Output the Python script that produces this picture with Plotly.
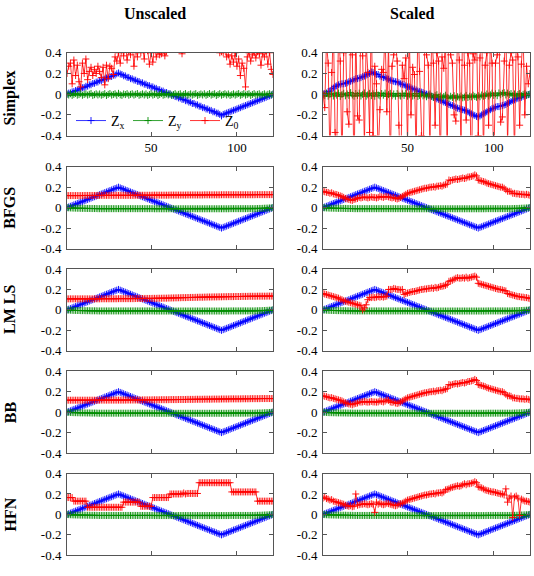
import plotly.graph_objects as go

# ---------------- data ----------------
iterations = list(range(1, 122))
methods = ["Simplex", "BFGS", "LM LS", "BB", "HFN"]
columns = ["Unscaled", "Scaled"]
y_ticks = [-0.4, -0.2, 0, 0.2, 0.4]
y_tick_labels = ["-0.4", "-0.2", "0", "0.2", "0.4"]
x_ticks = [50, 100]
x_tick_labels = ["50", "100"]
series_names = ["Z<sub>x</sub>", "Z<sub>y</sub>", "Z<sub>0</sub>"]

zx_clean = [
    0, .007, .013, .02, .027, .033, .04, .047, .053, .06,
    .067, .073, .08, .087, .093, .1, .107, .113, .12, .127,
    .133, .14, .147, .153, .16, .167, .173, .18, .187, .193,
    .2, .193, .187, .18, .173, .167, .16, .153, .147, .14,
    .133, .127, .12, .113, .107, .1, .093, .087, .08, .073,
    .067, .06, .053, .047, .04, .033, .027, .02, .013, .007,
    0, -.007, -.013, -.02, -.027, -.033, -.04, -.047, -.053, -.06,
    -.067, -.073, -.08, -.087, -.093, -.1, -.107, -.113, -.12, -.127,
    -.133, -.14, -.147, -.153, -.16, -.167, -.173, -.18, -.187, -.193,
    -.2, -.193, -.187, -.18, -.173, -.167, -.16, -.153, -.147, -.14,
    -.133, -.127, -.12, -.113, -.107, -.1, -.093, -.087, -.08, -.073,
    -.067, -.06, -.053, -.047, -.04, -.033, -.027, -.02, -.013, -.007,
    0,
]

zx_simplex_unscaled = [
    0, .01, .012, .022, .025, .035, .038, .05, .051, .062,
    .065, .076, .078, .09, .091, .103, .105, .116, .118, .13,
    .131, .143, .145, .156, .158, .17, .171, .183, .185, .197,
    .205, .195, .19, .178, .176, .163, .162, .15, .148, .137,
    .135, .124, .122, .11, .109, .097, .096, .084, .082, .07,
    .07, .058, .056, .044, .043, .03, .03, .017, .016, .004,
    .002, -.01, -.011, -.023, -.025, -.036, -.037, -.05, -.05, -.063,
    -.064, -.076, -.077, -.09, -.09, -.103, -.104, -.116, -.117, -.13,
    -.131, -.143, -.144, -.156, -.157, -.17, -.17, -.183, -.184, -.196,
    -.21, -.196, -.19, -.183, -.176, -.17, -.163, -.156, -.15, -.143,
    -.136, -.13, -.122, -.116, -.11, -.103, -.096, -.09, -.083, -.076,
    -.07, -.063, -.056, -.05, -.043, -.036, -.03, -.023, -.016, -.01,
    0,
]

zx_simplex_scaled = [
    0, .005, .01, .025, .03, .05, .06, .075, .08, .09,
    .095, .1, .1, .105, .11, .12, .125, .13, .14, .15,
    .15, .155, .16, .17, .175, .185, .19, .2, .215, .21,
    .2, .19, .19, .175, .17, .16, .165, .15, .145, .135,
    .13, .125, .12, .12, .11, .1, .095, .09, .08, .07,
    .07, .06, .05, .05, .04, .03, .025, .02, .015, .005,
    0, -.005, -.015, -.02, -.03, -.035, -.045, -.05, -.06, -.065,
    -.075, -.08, -.09, -.1, -.105, -.11, -.12, -.13, -.135, -.14,
    -.145, -.15, -.155, -.16, -.17, -.18, -.19, -.2, -.205, -.215,
    -.22, -.21, -.2, -.19, -.18, -.17, -.16, -.15, -.14, -.135,
    -.125, -.12, -.12, -.115, -.11, -.105, -.1, -.09, -.08, -.07,
    -.06, -.055, -.045, -.04, -.035, -.03, -.02, -.015, -.01, -.005,
    0,
]

zy_clean = [
    0, -.002, -.003, -.004, -.005, -.005, -.006, -.006, -.007, -.007,
    -.007, -.008, -.008, -.008, -.009, -.009, -.009, -.009, -.01, -.01,
    -.01, -.01, -.01, -.01, -.01, -.01, -.01, -.01, -.01, -.01,
    -.01, -.01, -.01, -.01, -.01, -.01, -.01, -.01, -.01, -.01,
    -.01, -.01, -.01, -.01, -.01, -.01, -.01, -.01, -.01, -.01,
    -.01, -.011, -.011, -.011, -.011, -.011, -.011, -.011, -.011, -.011,
    -.011, -.011, -.011, -.011, -.011, -.011, -.011, -.011, -.011, -.011,
    -.011, -.011, -.011, -.011, -.011, -.011, -.011, -.011, -.011, -.011,
    -.011, -.011, -.011, -.011, -.011, -.011, -.011, -.011, -.011, -.011,
    -.011, -.011, -.011, -.011, -.011, -.01, -.01, -.01, -.01, -.01,
    -.01, -.01, -.01, -.01, -.01, -.01, -.01, -.01, -.01, -.01,
    -.009, -.009, -.008, -.008, -.007, -.006, -.005, -.004, -.003, -.002,
    0,
]

zy_simplex_unscaled = [
    0, -.008, .004, -.012, -.002, .006, -.01, -.004, .005, -.011,
    -.003, .004, -.009, -.001, .007, -.012, -.005, .003, -.008, .002,
    -.01, -.004, .005, -.013, -.002, .006, -.009, -.003, .004, -.011,
    .008, -.006, -.012, .002, -.004, .005, -.01, -.002, .004, -.009,
    -.001, .006, -.011, -.005, .003, -.008, .002, -.012, -.004, .005,
    -.009, -.002, .004, -.013, -.003, .006, -.01, -.005, .003, -.008,
    .002, -.011, -.004, .005, -.009, -.002, .004, -.012, -.003, .006,
    -.01, -.004, .003, -.009, -.001, .005, -.012, -.005, .002, -.008,
    .004, -.011, -.003, .006, -.009, -.002, .004, -.013, -.004, .005,
    -.01, -.003, .004, -.008, .002, -.012, -.005, .003, -.009, -.001,
    .006, -.011, -.004, .005, -.009, -.002, .004, -.012, -.003, .005,
    -.008, -.002, .004, -.01, -.004, .003, -.009, -.001, .005, -.006,
    0,
]

zy_simplex_scaled = [
    0, -.015, .008, -.02, -.005, .01, -.018, .004, -.01, .012,
    -.022, -.004, .009, -.016, .002, -.012, .015, -.008, -.02, .006,
    -.012, .01, -.018, -.002, .012, -.02, -.006, .008, -.014, .004,
    -.02, .014, -.008, -.016, .006, -.01, .01, -.022, -.004, .008,
    -.015, .002, -.02, .006, -.01, -.018, .004, -.012, .008, -.02,
    -.006, .004, -.018, -.01, .006, -.022, -.012, .002, -.016, -.008,
    -.025, -.012, .002, -.02, -.03, -.015, -.005, -.028, -.018, -.035,
    -.022, -.01, -.03, -.04, -.02, -.032, -.015, -.038, -.025, -.03,
    -.018, -.035, -.028, -.012, -.032, -.02, -.026, -.01, -.022, -.03,
    -.015, -.025, -.008, -.02, -.012, .002, -.018, -.006, .01, -.012,
    .004, -.015, .012, -.005, .008, .015, -.008, .01, -.004, .006,
    -.012, .002, -.018, -.004, .006, -.014, -.002, .004, -.01, -.004,
    0,
]

z0_simplex_unscaled = [
    .20, .27, .30, .10, .33, .18, .28, .12, .07, .30,
    .20, .34, .14, .22, .26, .18, .24, .20, .27, .22,
    .16, .26, .09, .28, .15, .27, .25, .19, .36, .32,
    .40, .30, .45, .37, .50, .33, .42, .38, .48, .27,
    .44, .36, .52, .40, .46, .34, .55, .42, .29, .40,
    .31, .47, .36, .42, .38, .39, .44, .37, .41, .50,
    .60, .70, .80, .90, .75, .65, .55, .39, .60, .70,
    .85, .90, 1.0, .95, .80, .70, .75, .90, 1.0, .85,
    .70, .65, .80, .90, .75, .60, .55, .50, .45, .40,
    .41, .40, .44, .36, .38, .29, .37, .31, .40, .27,
    .34, .18, .30, .25, .07, .36, .40, .32, .38, .40,
    .35, .41, .39, .28, .40, .36, .42, .29, .40, .24,
    .19,
]

z0_simplex_scaled = [
    0.0, -.13, .5, .3, -.6, .21, .7, -.37, -.5, .6,
    .32, -.7, .4, .6, -.17, -.29, .5, .38, -.8, .6,
    -.21, -.25, .7, .37, -.5, .5, .21, -.37, .8, -.4,
    .27, .1, -.6, -.15, .24, .21, .6, -.17, .5, -.7,
    .27, .38, .5, .32, -.3, -.9, .28, .15, .35, -.5,
    .6, -.2, .26, .19, -.6, .7, .22, -.4, -.8, .5,
    .38, .28, -.5, .6, .3, -.3, .4, .32, -.7, .36,
    .25, .5, -.6, .9, .38, .3, -.2, -.26, .6, .33,
    -.5, .8, .28, -.25, .4, .3, -.9, .39, .33, .6,
    -.4, .35, .7, -.6, .28, .4, -.3, .5, .3, -.8,
    .3, .38, .6, -.27, -.22, .32, .7, -.5, .28, .4,
    .33, -.6, .5, .36, -.3, .29, .6, -.2, .27, .1,
    .2,
]

z0_bfgs_unscaled = [
    .118, .118, .118, .118, .118, .118, .118, .118, .118, .118,
    .119, .119, .119, .119, .119, .119, .119, .119, .119, .119,
    .12, .12, .12, .12, .12, .12, .12, .12, .12, .12,
    .12, .12, .12, .12, .12, .12, .12, .12, .12, .12,
    .121, .121, .121, .121, .121, .121, .121, .121, .121, .121,
    .122, .122, .122, .122, .122, .122, .122, .122, .122, .122,
    .123, .123, .123, .123, .123, .123, .123, .123, .123, .123,
    .124, .124, .124, .124, .124, .124, .124, .124, .124, .124,
    .125, .125, .125, .125, .125, .125, .125, .125, .125, .125,
    .126, .126, .126, .126, .126, .126, .126, .126, .126, .126,
    .126, .126, .126, .126, .126, .126, .126, .126, .126, .126,
    .127, .127, .127, .127, .127, .127, .127, .127, .127, .127,
    .128,
]

z0_bfgs_scaled = [
    .16, .155, .15, .148, .14, .145, .135, .13, .128, .12,
    .115, .11, .1, .09, .085, .08, .075, .07, .08, .085,
    .09, .1, .095, .1, .105, .1, .095, .1, .105, .1,
    .1, .095, .1, .11, .105, .1, .108, .11, .105, .1,
    .095, .1, .09, .085, .09, .1, .11, .12, .13, .14,
    .145, .15, .155, .16, .165, .17, .175, .18, .185, .19,
    .19, .195, .2, .2, .205, .2, .21, .21, .215, .21,
    .22, .225, .23, .27, .265, .27, .275, .28, .275, .28,
    .285, .29, .285, .29, .3, .3, .305, .31, .32, .31,
    .27, .265, .26, .255, .25, .24, .235, .23, .225, .22,
    .215, .21, .205, .2, .2, .19, .175, .16, .16, .155,
    .14, .14, .135, .135, .13, .13, .13, .125, .13, .125,
    .12,
]

z0_lmls_unscaled = [
    .108, .108, .108, .108, .108, .108, .108, .108, .108, .108,
    .108, .108, .108, .108, .108, .108, .108, .108, .108, .108,
    .109, .109, .109, .109, .109, .109, .109, .109, .109, .109,
    .11, .11, .11, .11, .11, .11, .11, .11, .11, .11,
    .111, .111, .111, .111, .111, .112, .112, .112, .112, .112,
    .113, .113, .113, .114, .114, .114, .115, .115, .115, .116,
    .116, .117, .117, .118, .118, .119, .119, .12, .12, .12,
    .121, .121, .122, .122, .122, .123, .123, .124, .124, .124,
    .125, .125, .126, .126, .126, .127, .127, .127, .128, .128,
    .128, .129, .129, .129, .13, .13, .13, .13, .131, .131,
    .131, .131, .132, .132, .132, .132, .133, .133, .133, .133,
    .133, .134, .134, .134, .134, .134, .134, .135, .135, .135,
    .135,
]

z0_lmls_scaled = [
    .16, .155, .15, .145, .14, .135, .13, .125, .12, .115,
    .105, .1, .09, .085, .08, .075, .07, .065, .06, .055,
    .05, .045, .04, .0, .02, .05, .1, .12, .12, .125,
    .12, .125, .13, .125, .13, .125, .13, .135, .2, .2,
    .2, .21, .205, .2, .2, .195, .2, .15, .16, .165,
    .17, .175, .18, .18, .185, .19, .195, .2, .2, .205,
    .205, .21, .21, .215, .21, .22, .215, .22, .23, .23,
    .235, .24, .25, .28, .285, .29, .3, .31, .315, .31,
    .31, .315, .31, .32, .31, .315, .32, .325, .33, .32,
    .26, .255, .25, .245, .24, .235, .23, .225, .22, .215,
    .21, .205, .2, .2, .195, .19, .185, .16, .155, .15,
    .145, .14, .135, .13, .13, .125, .125, .12, .12, .115,
    .11,
]

z0_bb_unscaled = [
    .117, .117, .117, .117, .117, .117, .117, .117, .117, .117,
    .117, .117, .117, .117, .117, .117, .117, .117, .117, .117,
    .118, .118, .118, .118, .118, .118, .118, .118, .118, .118,
    .118, .118, .118, .118, .118, .119, .119, .119, .119, .119,
    .119, .119, .119, .119, .12, .12, .12, .12, .12, .12,
    .121, .121, .121, .121, .121, .122, .122, .122, .122, .122,
    .123, .123, .123, .123, .123, .124, .124, .124, .124, .124,
    .125, .125, .125, .125, .125, .126, .126, .126, .126, .126,
    .127, .127, .127, .127, .127, .128, .128, .128, .128, .128,
    .129, .129, .129, .129, .129, .13, .13, .13, .13, .13,
    .13, .13, .131, .131, .131, .131, .131, .132, .132, .132,
    .132, .132, .132, .133, .133, .133, .133, .133, .133, .133,
    .133,
]

z0_bb_scaled = [
    .16, .155, .152, .145, .14, .142, .135, .13, .125, .12,
    .115, .11, .1, .092, .085, .08, .078, .072, .08, .085,
    .09, .1, .098, .1, .105, .1, .098, .1, .105, .1,
    .1, .098, .1, .11, .105, .1, .108, .12, .115, .1,
    .095, .1, .09, .085, .09, .1, .11, .12, .13, .14,
    .145, .15, .155, .16, .165, .17, .175, .18, .185, .19,
    .19, .195, .2, .2, .205, .2, .21, .21, .215, .21,
    .22, .225, .23, .27, .265, .27, .275, .28, .275, .28,
    .285, .29, .285, .29, .3, .3, .305, .31, .32, .31,
    .27, .265, .26, .255, .25, .24, .235, .23, .225, .22,
    .215, .21, .205, .2, .2, .19, .175, .16, .16, .155,
    .14, .14, .135, .135, .13, .13, .13, .125, .13, .125,
    .12,
]

z0_hfn_unscaled = [
    .165, .165, .165, .165, .13, .13, .13, .13, .13, .13,
    .13, .13, .07, .07, .07, .07, .07, .07, .07, .07,
    .07, .07, .07, .07, .07, .07, .07, .07, .07, .07,
    .07, .07, .07, .12, .12, .12, .12, .12, .12, .12,
    .12, .12, .12, .08, .08, .08, .08, .08, .08, .08,
    .165, .165, .165, .165, .165, .165, .165, .165, .165, .165,
    .2, .2, .2, .2, .2, .2, .2, .2, .21, .2,
    .205, .205, .205, .205, .205, .205, .205, .31, .31, .31,
    .31, .31, .31, .31, .31, .31, .31, .31, .31, .31,
    .31, .31, .31, .31, .31, .31, .22, .22, .22, .22,
    .22, .22, .22, .22, .22, .22, .22, .22, .22, .22,
    .22, .13, .13, .13, .13, .13, .13, .13, .13, .13,
    .13,
]

z0_hfn_scaled = [
    .16, .17, .155, .15, .14, .145, .13, .125, .12, .115,
    .11, .105, .1, .09, .085, .08, .085, .075, .08, .2,
    .09, .095, .1, .1, .105, .1, .095, .1, .105, .1,
    .02, .12, .1, .11, .1, .095, .1, .11, .105, .1,
    .095, .09, .085, .09, .1, .105, .11, .12, .13, .14,
    .145, .15, .155, .16, .165, .17, .175, .18, .185, .19,
    .19, .195, .2, .2, .205, .2, .21, .21, .215, .21,
    .22, .24, .245, .25, .26, .265, .27, .275, .28, .275,
    .28, .29, .3, .29, .3, .3, .305, .31, .32, .31,
    .27, .265, .26, .25, .24, .235, .23, .225, .22, .22,
    .215, .21, .205, .2, .2, .19, .25, .12, .16, .18,
    -.03, .17, .18, .16, -.01, .15, .14, .13, .13, .125,
    .12,
]

panels = {
    ("Simplex", "Unscaled"): (zx_simplex_unscaled, zy_simplex_unscaled, z0_simplex_unscaled),
    ("Simplex", "Scaled"): (zx_simplex_scaled, zy_simplex_scaled, z0_simplex_scaled),
    ("BFGS", "Unscaled"): (zx_clean, zy_clean, z0_bfgs_unscaled),
    ("BFGS", "Scaled"): (zx_clean, zy_clean, z0_bfgs_scaled),
    ("LM LS", "Unscaled"): (zx_clean, zy_clean, z0_lmls_unscaled),
    ("LM LS", "Scaled"): (zx_clean, zy_clean, z0_lmls_scaled),
    ("BB", "Unscaled"): (zx_clean, zy_clean, z0_bb_unscaled),
    ("BB", "Scaled"): (zx_clean, zy_clean, z0_bb_scaled),
    ("HFN", "Unscaled"): (zx_clean, zy_clean, z0_hfn_unscaled),
    ("HFN", "Scaled"): (zx_clean, zy_clean, z0_hfn_scaled),
}

# ---------------- style / layout ----------------
W, H = 534, 576
FONT = "Liberation Serif"
colors = ["rgb(0,0,255)", "rgb(0,140,0)", "rgb(255,0,0)"]
col_px = [(67, 273), (323, 530)]
row_px = [(47, 132), (164, 248), (269, 353), (374, 458), (479, 563)]
title_px = [(155, 7), (412, 7)]
label_cy = [94, 206, 311, 416, 521]
FRAME = "#555555"


def fx(p):
    return p / W


def fy(p):
    return 1 - p / H


fig = go.Figure()
layout_axes = {}
idx = 0
for r, method in enumerate(methods):
    for c, col in enumerate(columns):
        idx += 1
        sfx = "" if idx == 1 else str(idx)
        series = panels[(method, col)]
        for k in range(3):
            fig.add_trace(go.Scatter(
                x=iterations, y=series[k], xaxis="x" + sfx, yaxis="y" + sfx,
                mode="lines+markers", name=series_names[k],
                showlegend=(idx == 1), legendrank=k + 1,
                line=dict(color=colors[k], width=0.8),
                marker=dict(symbol="cross-thin", size=5,
                            line=dict(color=colors[k], width=0.9)),
                cliponaxis=True, hoverinfo="skip",
            ))
        x0, x1 = col_px[c]
        top, bot = row_px[r]
        layout_axes["xaxis" + sfx] = dict(
            domain=[fx(x0), fx(x1)], anchor="y" + sfx, range=[1, 121],
            tickvals=x_ticks, ticktext=x_tick_labels, showticklabels=(r == 0),
            ticks="inside", ticklen=4, tickcolor=FRAME, tickwidth=0.8,
            showline=True, linecolor=FRAME, linewidth=1, mirror="ticks",
            showgrid=False, zeroline=False,
            tickfont=dict(family=FONT, size=13, color="black"),
        )
        layout_axes["yaxis" + sfx] = dict(
            domain=[fy(bot), fy(top)], anchor="x" + sfx, range=[-0.4, 0.4],
            tickvals=y_ticks, ticktext=y_tick_labels,
            ticks="inside", ticklen=4, tickcolor=FRAME, tickwidth=0.8,
            showline=True, linecolor=FRAME, linewidth=1, mirror="ticks",
            showgrid=False, zeroline=False, ticklabelstandoff=2,
            tickfont=dict(family=FONT, size=13, color="black"),
        )

annotations = []
for c, col in enumerate(columns):
    px, py = title_px[c]
    annotations.append(dict(
        text="<b>" + col + "</b>", x=fx(px), y=fy(py), xref="paper", yref="paper",
        xanchor="center", yanchor="middle", showarrow=False,
        font=dict(family=FONT, size=16, color="black"),
    ))
for r, method in enumerate(methods):
    annotations.append(dict(
        text="<b>" + method + "</b>", x=fx(10), y=fy(label_cy[r]),
        xref="paper", yref="paper", xanchor="center", yanchor="middle",
        textangle=-90, showarrow=False,
        font=dict(family=FONT, size=16, color="black"),
    ))

fig.update_layout(
    width=W, height=H, autosize=False,
    margin=dict(l=0, r=0, t=0, b=0),
    paper_bgcolor="white", plot_bgcolor="white",
    annotations=annotations,
    legend=dict(
        orientation="h", x=fx(71), y=fy(117), xanchor="left", yanchor="middle",
        bgcolor="rgba(255,255,255,0)", borderwidth=0, itemwidth=30,
        entrywidth=12, entrywidthmode="pixels",
        font=dict(family=FONT, size=14, color="black"),
        traceorder="normal",
    ),
    **layout_axes,
)

fig.write_html("out.html")
